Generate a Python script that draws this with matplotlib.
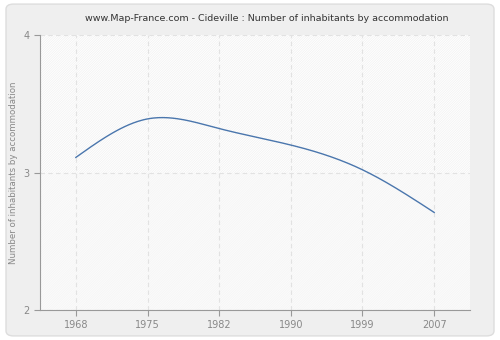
import numpy as np
import matplotlib.pyplot as plt
from matplotlib.patches import FancyBboxPatch, Rectangle

years = ['1968', '1975', '1982', '1990', '1999', '2007']
values = [3.11, 3.39, 3.32, 3.20, 3.02, 2.71]


def natural_spline(x, y, n=300):
    # natural cubic spline through the points, for a smooth line
    x = np.asarray(x, float)
    y = np.asarray(y, float)
    k = len(x)
    h = np.diff(x)
    A = np.zeros((k, k))
    b = np.zeros(k)
    A[0, 0] = A[-1, -1] = 1
    for i in range(1, k - 1):
        A[i, i - 1] = h[i - 1]
        A[i, i] = 2 * (h[i - 1] + h[i])
        A[i, i + 1] = h[i]
        b[i] = 3 * ((y[i + 1] - y[i]) / h[i] - (y[i] - y[i - 1]) / h[i - 1])
    c = np.linalg.solve(A, b)
    xs = np.linspace(x[0], x[-1], n)
    ys = np.empty_like(xs)
    for j, xv in enumerate(xs):
        i = min(np.searchsorted(x, xv, side='right') - 1, k - 2)
        dx = xv - x[i]
        bi = (y[i + 1] - y[i]) / h[i] - h[i] * (2 * c[i] + c[i + 1]) / 3
        di = (c[i + 1] - c[i]) / (3 * h[i])
        ys[j] = y[i] + bi * dx + c[i] * dx ** 2 + di * dx ** 3
    return xs, ys


plt.rcParams['hatch.linewidth'] = 0.5

fig = plt.figure(figsize=(5, 3.4), dpi=100)
fig.patch.set_facecolor('white')
fig.patches.append(FancyBboxPatch((0.012, 0.012), 0.976, 0.976,
                                  boxstyle='round,pad=0,rounding_size=0.015',
                                  transform=fig.transFigure, facecolor='#efefef',
                                  edgecolor='#dddddd', linewidth=1, zorder=-10))

ax = fig.add_axes([0.08, 0.088, 0.86, 0.809])
ax.set_facecolor('white')
pos = np.arange(len(years))

# hatched background, a little stronger above 3
ax.add_patch(Rectangle((-0.5, 3), 6, 1, facecolor='white', edgecolor='#f1f1f1',
                       hatch='/' * 14, linewidth=0, zorder=0))
ax.add_patch(Rectangle((-0.5, 2), 6, 1, facecolor='#fbfbfb', edgecolor='#f5f5f5',
                       hatch='/' * 14, linewidth=0, zorder=0))

xs, ys = natural_spline(pos, values)
ax.plot(xs, ys, color='#4a76ad', linewidth=1, zorder=3)

ax.set_xlim(-0.5, 5.5)
ax.set_ylim(2, 4)
ax.set_xticks(pos)
ax.set_xticklabels(years)
ax.set_yticks([2, 3, 4])
ax.grid(True, color='#e2e2e2', linestyle=(0, (4, 3)), linewidth=0.8)
ax.set_axisbelow(True)

for s in ['top', 'right']:
    ax.spines[s].set_visible(False)
for s in ['left', 'bottom']:
    ax.spines[s].set_color('#999999')
ax.tick_params(colors='#999999', labelcolor='#888888', labelsize=7, length=4)
ax.set_ylabel('Number of inhabitants by accommodation', color='#888888', fontsize=6.2)
fig.text(0.534, 0.947, 'www.Map-France.com - Cideville : Number of inhabitants by accommodation',
         color='#333333', fontsize=6.8, ha='center', va='center')

plt.savefig('out.png', dpi=100, facecolor=fig.get_facecolor())
